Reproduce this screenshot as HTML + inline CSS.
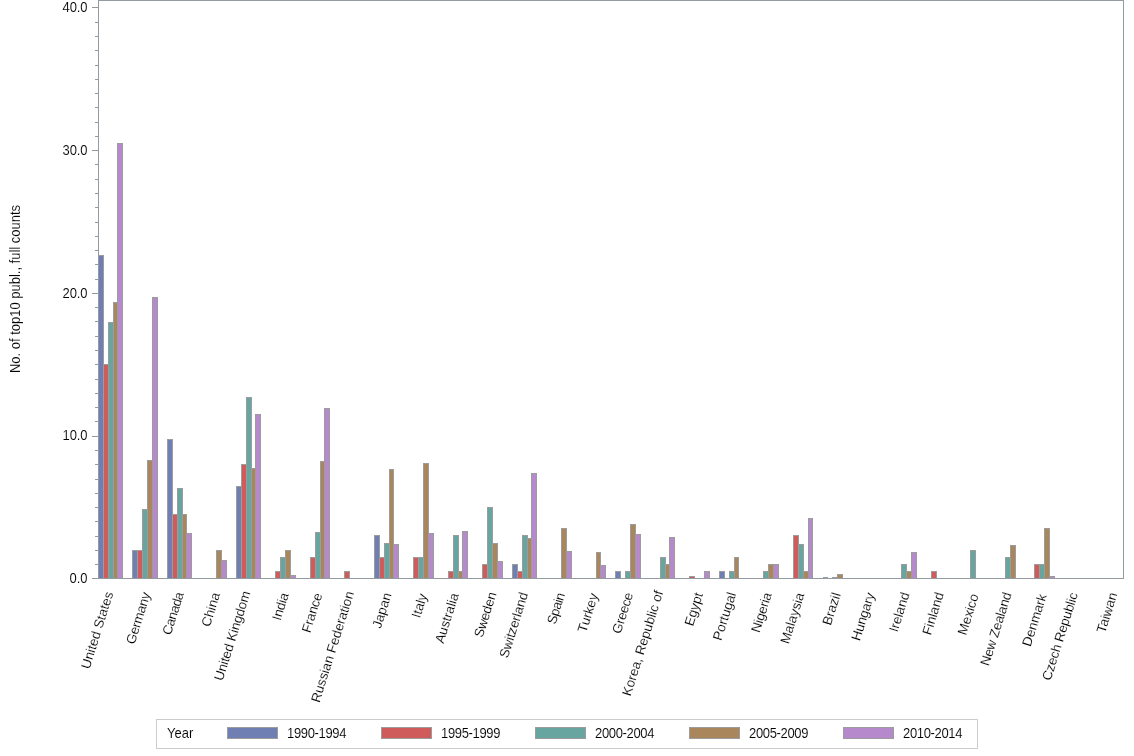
<!DOCTYPE html>
<html><head><meta charset="utf-8"><title>No. of top10 publ., full counts by country and period</title>
<style>html,body{margin:0;padding:0;background:#fff}body{width:1134px;height:756px;overflow:hidden}svg{display:block}text{stroke:#fff;stroke-width:0.1px;paint-order:fill stroke;font-family:"Liberation Sans",sans-serif;font-size:13px;fill:#000}.c rect,.c line{shape-rendering:crispEdges}text.xl{font-size:13.33px;stroke-width:0.15px}</style></head><body>
<svg width="1134" height="756" viewBox="0 0 1134 756">
<rect x="0" y="0" width="1134" height="756" fill="#fff"/>
<g class="c">
<rect x="98" y="255" width="6" height="324" fill="#9C9C9C"/>
<rect x="99" y="256" width="4" height="322" fill="#6F7EB3"/>
<rect x="103" y="364" width="6" height="215" fill="#9C9C9C"/>
<rect x="104" y="365" width="4" height="213" fill="#D05B5B"/>
<rect x="108" y="322" width="6" height="257" fill="#9C9C9C"/>
<rect x="109" y="323" width="4" height="255" fill="#66A5A0"/>
<rect x="113" y="302" width="5" height="277" fill="#9C9C9C"/>
<rect x="114" y="303" width="3" height="275" fill="#A9865B"/>
<rect x="117" y="143" width="6" height="436" fill="#9C9C9C"/>
<rect x="118" y="144" width="4" height="434" fill="#B689CD"/>
<rect x="132" y="550" width="6" height="29" fill="#9C9C9C"/>
<rect x="133" y="551" width="4" height="27" fill="#6F7EB3"/>
<rect x="137" y="550" width="6" height="29" fill="#9C9C9C"/>
<rect x="138" y="551" width="4" height="27" fill="#D05B5B"/>
<rect x="142" y="509" width="6" height="70" fill="#9C9C9C"/>
<rect x="143" y="510" width="4" height="68" fill="#66A5A0"/>
<rect x="147" y="460" width="6" height="119" fill="#9C9C9C"/>
<rect x="148" y="461" width="4" height="117" fill="#A9865B"/>
<rect x="152" y="297" width="6" height="282" fill="#9C9C9C"/>
<rect x="153" y="298" width="4" height="280" fill="#B689CD"/>
<rect x="167" y="439" width="6" height="140" fill="#9C9C9C"/>
<rect x="168" y="440" width="4" height="138" fill="#6F7EB3"/>
<rect x="172" y="514" width="6" height="65" fill="#9C9C9C"/>
<rect x="173" y="515" width="4" height="63" fill="#D05B5B"/>
<rect x="177" y="488" width="6" height="91" fill="#9C9C9C"/>
<rect x="178" y="489" width="4" height="89" fill="#66A5A0"/>
<rect x="182" y="514" width="5" height="65" fill="#9C9C9C"/>
<rect x="183" y="515" width="3" height="63" fill="#A9865B"/>
<rect x="186" y="533" width="6" height="46" fill="#9C9C9C"/>
<rect x="187" y="534" width="4" height="44" fill="#B689CD"/>
<rect x="216" y="550" width="6" height="29" fill="#9C9C9C"/>
<rect x="217" y="551" width="4" height="27" fill="#A9865B"/>
<rect x="221" y="560" width="6" height="19" fill="#9C9C9C"/>
<rect x="222" y="561" width="4" height="17" fill="#B689CD"/>
<rect x="236" y="486" width="6" height="93" fill="#9C9C9C"/>
<rect x="237" y="487" width="4" height="91" fill="#6F7EB3"/>
<rect x="241" y="464" width="6" height="115" fill="#9C9C9C"/>
<rect x="242" y="465" width="4" height="113" fill="#D05B5B"/>
<rect x="246" y="397" width="6" height="182" fill="#9C9C9C"/>
<rect x="247" y="398" width="4" height="180" fill="#66A5A0"/>
<rect x="251" y="468" width="5" height="111" fill="#9C9C9C"/>
<rect x="252" y="469" width="3" height="109" fill="#A9865B"/>
<rect x="255" y="414" width="6" height="165" fill="#9C9C9C"/>
<rect x="256" y="415" width="4" height="163" fill="#B689CD"/>
<rect x="275" y="571" width="6" height="8" fill="#9C9C9C"/>
<rect x="276" y="572" width="4" height="6" fill="#D05B5B"/>
<rect x="280" y="557" width="6" height="22" fill="#9C9C9C"/>
<rect x="281" y="558" width="4" height="20" fill="#66A5A0"/>
<rect x="285" y="550" width="6" height="29" fill="#9C9C9C"/>
<rect x="286" y="551" width="4" height="27" fill="#A9865B"/>
<rect x="290" y="575" width="6" height="4" fill="#9C9C9C"/>
<rect x="291" y="576" width="4" height="2" fill="#B689CD"/>
<rect x="310" y="557" width="6" height="22" fill="#9C9C9C"/>
<rect x="311" y="558" width="4" height="20" fill="#D05B5B"/>
<rect x="315" y="532" width="6" height="47" fill="#9C9C9C"/>
<rect x="316" y="533" width="4" height="45" fill="#66A5A0"/>
<rect x="320" y="461" width="5" height="118" fill="#9C9C9C"/>
<rect x="321" y="462" width="3" height="116" fill="#A9865B"/>
<rect x="324" y="408" width="6" height="171" fill="#9C9C9C"/>
<rect x="325" y="409" width="4" height="169" fill="#B689CD"/>
<rect x="344" y="571" width="6" height="8" fill="#9C9C9C"/>
<rect x="345" y="572" width="4" height="6" fill="#D05B5B"/>
<rect x="374" y="535" width="6" height="44" fill="#9C9C9C"/>
<rect x="375" y="536" width="4" height="42" fill="#6F7EB3"/>
<rect x="379" y="557" width="6" height="22" fill="#9C9C9C"/>
<rect x="380" y="558" width="4" height="20" fill="#D05B5B"/>
<rect x="384" y="543" width="6" height="36" fill="#9C9C9C"/>
<rect x="385" y="544" width="4" height="34" fill="#66A5A0"/>
<rect x="389" y="469" width="5" height="110" fill="#9C9C9C"/>
<rect x="390" y="470" width="3" height="108" fill="#A9865B"/>
<rect x="393" y="544" width="6" height="35" fill="#9C9C9C"/>
<rect x="394" y="545" width="4" height="33" fill="#B689CD"/>
<rect x="413" y="557" width="6" height="22" fill="#9C9C9C"/>
<rect x="414" y="558" width="4" height="20" fill="#D05B5B"/>
<rect x="418" y="557" width="6" height="22" fill="#9C9C9C"/>
<rect x="419" y="558" width="4" height="20" fill="#66A5A0"/>
<rect x="423" y="463" width="6" height="116" fill="#9C9C9C"/>
<rect x="424" y="464" width="4" height="114" fill="#A9865B"/>
<rect x="428" y="533" width="6" height="46" fill="#9C9C9C"/>
<rect x="429" y="534" width="4" height="44" fill="#B689CD"/>
<rect x="448" y="571" width="6" height="8" fill="#9C9C9C"/>
<rect x="449" y="572" width="4" height="6" fill="#D05B5B"/>
<rect x="453" y="535" width="6" height="44" fill="#9C9C9C"/>
<rect x="454" y="536" width="4" height="42" fill="#66A5A0"/>
<rect x="458" y="571" width="5" height="8" fill="#9C9C9C"/>
<rect x="459" y="572" width="3" height="6" fill="#A9865B"/>
<rect x="462" y="531" width="6" height="48" fill="#9C9C9C"/>
<rect x="463" y="532" width="4" height="46" fill="#B689CD"/>
<rect x="482" y="564" width="6" height="15" fill="#9C9C9C"/>
<rect x="483" y="565" width="4" height="13" fill="#D05B5B"/>
<rect x="487" y="507" width="6" height="72" fill="#9C9C9C"/>
<rect x="488" y="508" width="4" height="70" fill="#66A5A0"/>
<rect x="492" y="543" width="6" height="36" fill="#9C9C9C"/>
<rect x="493" y="544" width="4" height="34" fill="#A9865B"/>
<rect x="497" y="561" width="6" height="18" fill="#9C9C9C"/>
<rect x="498" y="562" width="4" height="16" fill="#B689CD"/>
<rect x="512" y="564" width="6" height="15" fill="#9C9C9C"/>
<rect x="513" y="565" width="4" height="13" fill="#6F7EB3"/>
<rect x="517" y="571" width="6" height="8" fill="#9C9C9C"/>
<rect x="518" y="572" width="4" height="6" fill="#D05B5B"/>
<rect x="522" y="535" width="6" height="44" fill="#9C9C9C"/>
<rect x="523" y="536" width="4" height="42" fill="#66A5A0"/>
<rect x="527" y="538" width="5" height="41" fill="#9C9C9C"/>
<rect x="528" y="539" width="3" height="39" fill="#A9865B"/>
<rect x="531" y="473" width="6" height="106" fill="#9C9C9C"/>
<rect x="532" y="474" width="4" height="104" fill="#B689CD"/>
<rect x="561" y="528" width="6" height="51" fill="#9C9C9C"/>
<rect x="562" y="529" width="4" height="49" fill="#A9865B"/>
<rect x="566" y="551" width="6" height="28" fill="#9C9C9C"/>
<rect x="567" y="552" width="4" height="26" fill="#B689CD"/>
<rect x="596" y="552" width="5" height="27" fill="#9C9C9C"/>
<rect x="597" y="553" width="3" height="25" fill="#A9865B"/>
<rect x="600" y="565" width="6" height="14" fill="#9C9C9C"/>
<rect x="601" y="566" width="4" height="12" fill="#B689CD"/>
<rect x="615" y="571" width="6" height="8" fill="#9C9C9C"/>
<rect x="616" y="572" width="4" height="6" fill="#6F7EB3"/>
<rect x="625" y="571" width="6" height="8" fill="#9C9C9C"/>
<rect x="626" y="572" width="4" height="6" fill="#66A5A0"/>
<rect x="630" y="524" width="6" height="55" fill="#9C9C9C"/>
<rect x="631" y="525" width="4" height="53" fill="#A9865B"/>
<rect x="635" y="534" width="6" height="45" fill="#9C9C9C"/>
<rect x="636" y="535" width="4" height="43" fill="#B689CD"/>
<rect x="660" y="557" width="6" height="22" fill="#9C9C9C"/>
<rect x="661" y="558" width="4" height="20" fill="#66A5A0"/>
<rect x="665" y="564" width="5" height="15" fill="#9C9C9C"/>
<rect x="666" y="565" width="3" height="13" fill="#A9865B"/>
<rect x="669" y="537" width="6" height="42" fill="#9C9C9C"/>
<rect x="670" y="538" width="4" height="40" fill="#B689CD"/>
<rect x="689" y="576" width="6" height="3" fill="#9C9C9C"/>
<rect x="690" y="577" width="4" height="1" fill="#D05B5B"/>
<rect x="704" y="571" width="6" height="8" fill="#9C9C9C"/>
<rect x="705" y="572" width="4" height="6" fill="#B689CD"/>
<rect x="719" y="571" width="6" height="8" fill="#9C9C9C"/>
<rect x="720" y="572" width="4" height="6" fill="#6F7EB3"/>
<rect x="729" y="571" width="6" height="8" fill="#9C9C9C"/>
<rect x="730" y="572" width="4" height="6" fill="#66A5A0"/>
<rect x="734" y="557" width="5" height="22" fill="#9C9C9C"/>
<rect x="735" y="558" width="3" height="20" fill="#A9865B"/>
<rect x="763" y="571" width="6" height="8" fill="#9C9C9C"/>
<rect x="764" y="572" width="4" height="6" fill="#66A5A0"/>
<rect x="768" y="564" width="6" height="15" fill="#9C9C9C"/>
<rect x="769" y="565" width="4" height="13" fill="#A9865B"/>
<rect x="773" y="564" width="6" height="15" fill="#9C9C9C"/>
<rect x="774" y="565" width="4" height="13" fill="#B689CD"/>
<rect x="793" y="535" width="6" height="44" fill="#9C9C9C"/>
<rect x="794" y="536" width="4" height="42" fill="#D05B5B"/>
<rect x="798" y="544" width="6" height="35" fill="#9C9C9C"/>
<rect x="799" y="545" width="4" height="33" fill="#66A5A0"/>
<rect x="803" y="571" width="6" height="8" fill="#9C9C9C"/>
<rect x="804" y="572" width="4" height="6" fill="#A9865B"/>
<rect x="808" y="518" width="5" height="61" fill="#9C9C9C"/>
<rect x="809" y="519" width="3" height="59" fill="#B689CD"/>
<rect x="823" y="577" width="5" height="2" fill="#9C9C9C"/>
<rect x="832" y="577" width="6" height="2" fill="#9C9C9C"/>
<rect x="837" y="574" width="6" height="5" fill="#9C9C9C"/>
<rect x="838" y="575" width="4" height="3" fill="#A9865B"/>
<rect x="901" y="564" width="6" height="15" fill="#9C9C9C"/>
<rect x="902" y="565" width="4" height="13" fill="#66A5A0"/>
<rect x="906" y="571" width="6" height="8" fill="#9C9C9C"/>
<rect x="907" y="572" width="4" height="6" fill="#A9865B"/>
<rect x="911" y="552" width="6" height="27" fill="#9C9C9C"/>
<rect x="912" y="553" width="4" height="25" fill="#B689CD"/>
<rect x="931" y="571" width="6" height="8" fill="#9C9C9C"/>
<rect x="932" y="572" width="4" height="6" fill="#D05B5B"/>
<rect x="970" y="550" width="6" height="29" fill="#9C9C9C"/>
<rect x="971" y="551" width="4" height="27" fill="#66A5A0"/>
<rect x="1005" y="557" width="6" height="22" fill="#9C9C9C"/>
<rect x="1006" y="558" width="4" height="20" fill="#66A5A0"/>
<rect x="1010" y="545" width="6" height="34" fill="#9C9C9C"/>
<rect x="1011" y="546" width="4" height="32" fill="#A9865B"/>
<rect x="1034" y="564" width="6" height="15" fill="#9C9C9C"/>
<rect x="1035" y="565" width="4" height="13" fill="#D05B5B"/>
<rect x="1039" y="564" width="6" height="15" fill="#9C9C9C"/>
<rect x="1040" y="565" width="4" height="13" fill="#66A5A0"/>
<rect x="1044" y="528" width="6" height="51" fill="#9C9C9C"/>
<rect x="1045" y="529" width="4" height="49" fill="#A9865B"/>
<rect x="1049" y="576" width="6" height="3" fill="#9C9C9C"/>
<rect x="1050" y="577" width="4" height="1" fill="#B689CD"/>
<rect x="98" y="0" width="1026" height="1" fill="#949BA0"/>
<rect x="98" y="0" width="1" height="579" fill="#949BA0"/>
<rect x="1123" y="0" width="1" height="579" fill="#949BA0"/>
<rect x="98" y="578" width="1026" height="1" fill="#949BA0"/>
<rect x="92" y="7" width="6" height="1" fill="#949BA0"/>
<rect x="95" y="22" width="3" height="1" fill="#949BA0"/>
<rect x="95" y="36" width="3" height="1" fill="#949BA0"/>
<rect x="95" y="50" width="3" height="1" fill="#949BA0"/>
<rect x="95" y="65" width="3" height="1" fill="#949BA0"/>
<rect x="95" y="79" width="3" height="1" fill="#949BA0"/>
<rect x="95" y="93" width="3" height="1" fill="#949BA0"/>
<rect x="95" y="107" width="3" height="1" fill="#949BA0"/>
<rect x="95" y="122" width="3" height="1" fill="#949BA0"/>
<rect x="95" y="136" width="3" height="1" fill="#949BA0"/>
<rect x="92" y="150" width="6" height="1" fill="#949BA0"/>
<rect x="95" y="164" width="3" height="1" fill="#949BA0"/>
<rect x="95" y="179" width="3" height="1" fill="#949BA0"/>
<rect x="95" y="193" width="3" height="1" fill="#949BA0"/>
<rect x="95" y="207" width="3" height="1" fill="#949BA0"/>
<rect x="95" y="222" width="3" height="1" fill="#949BA0"/>
<rect x="95" y="236" width="3" height="1" fill="#949BA0"/>
<rect x="95" y="250" width="3" height="1" fill="#949BA0"/>
<rect x="95" y="264" width="3" height="1" fill="#949BA0"/>
<rect x="95" y="279" width="3" height="1" fill="#949BA0"/>
<rect x="92" y="293" width="6" height="1" fill="#949BA0"/>
<rect x="95" y="307" width="3" height="1" fill="#949BA0"/>
<rect x="95" y="321" width="3" height="1" fill="#949BA0"/>
<rect x="95" y="336" width="3" height="1" fill="#949BA0"/>
<rect x="95" y="350" width="3" height="1" fill="#949BA0"/>
<rect x="95" y="364" width="3" height="1" fill="#949BA0"/>
<rect x="95" y="379" width="3" height="1" fill="#949BA0"/>
<rect x="95" y="393" width="3" height="1" fill="#949BA0"/>
<rect x="95" y="407" width="3" height="1" fill="#949BA0"/>
<rect x="95" y="421" width="3" height="1" fill="#949BA0"/>
<rect x="92" y="436" width="6" height="1" fill="#949BA0"/>
<rect x="95" y="450" width="3" height="1" fill="#949BA0"/>
<rect x="95" y="464" width="3" height="1" fill="#949BA0"/>
<rect x="95" y="479" width="3" height="1" fill="#949BA0"/>
<rect x="95" y="493" width="3" height="1" fill="#949BA0"/>
<rect x="95" y="507" width="3" height="1" fill="#949BA0"/>
<rect x="95" y="521" width="3" height="1" fill="#949BA0"/>
<rect x="95" y="536" width="3" height="1" fill="#949BA0"/>
<rect x="95" y="550" width="3" height="1" fill="#949BA0"/>
<rect x="95" y="564" width="3" height="1" fill="#949BA0"/>
<rect x="92" y="578" width="6" height="1" fill="#949BA0"/>
</g>
<text transform="translate(87.5,12.2) scale(1,1.06)" text-anchor="end" textLength="25">40.0</text>
<text transform="translate(87.5,154.9) scale(1,1.06)" text-anchor="end" textLength="25">30.0</text>
<text transform="translate(87.5,297.7) scale(1,1.06)" text-anchor="end" textLength="25">20.0</text>
<text transform="translate(87.5,440.4) scale(1,1.06)" text-anchor="end" textLength="25">10.0</text>
<text transform="translate(87.5,583.2) scale(1,1.06)" text-anchor="end" textLength="18">0.0</text>
<text transform="translate(20,289) rotate(-90) scale(1,1.06)" text-anchor="middle">No. of top10 publ., full counts</text>
<text transform="translate(113.44,593.32) rotate(-72.5)" text-anchor="end" class="xl">United States</text>
<text transform="translate(150.58,593.97) rotate(-72.5)" text-anchor="end" textLength="53.5" class="xl">Germany</text>
<text transform="translate(184.06,593.59) rotate(-72.5)" text-anchor="end" textLength="44.2" class="xl">Canada</text>
<text transform="translate(220.27,594.19) rotate(-72.5)" text-anchor="end" class="xl">China</text>
<text transform="translate(250.60,592.63) rotate(-72.5)" text-anchor="end" textLength="93.3" class="xl">United Kingdom</text>
<text transform="translate(288.88,594.35) rotate(-72.5)" text-anchor="end" textLength="28.1" class="xl">India</text>
<text transform="translate(322.38,594.62) rotate(-72.5)" text-anchor="end" textLength="40.7" class="xl">France</text>
<text transform="translate(354.15,592.99) rotate(-72.5)" text-anchor="end" class="xl">Russian Federation</text>
<text transform="translate(391.67,594.46) rotate(-72.5)" text-anchor="end" class="xl">Japan</text>
<text transform="translate(427.38,595.36) rotate(-72.5)" text-anchor="end" class="xl">Italy</text>
<text transform="translate(458.99,594.65) rotate(-72.5)" text-anchor="end" class="xl">Australia</text>
<text transform="translate(496.62,593.75) rotate(-72.5)" text-anchor="end" textLength="46.7" class="xl">Sweden</text>
<text transform="translate(528.25,593.91) rotate(-72.5)" text-anchor="end" textLength="68.1" class="xl">Switzerland</text>
<text transform="translate(565.11,594.31) rotate(-72.5)" text-anchor="end" textLength="32.1" class="xl">Spain</text>
<text transform="translate(598.22,594.95) rotate(-72.5)" text-anchor="end" class="xl">Turkey</text>
<text transform="translate(633.31,594.16) rotate(-72.5)" text-anchor="end" textLength="42.2" class="xl">Greece</text>
<text transform="translate(663.45,592.15) rotate(-72.5)" text-anchor="end" class="xl">Korea, Republic of</text>
<text transform="translate(703.15,594.21) rotate(-72.5)" text-anchor="end" class="xl">Egypt</text>
<text transform="translate(736.25,593.81) rotate(-72.5)" text-anchor="end" class="xl">Portugal</text>
<text transform="translate(771.91,594.10) rotate(-72.5)" text-anchor="end" textLength="41.0" class="xl">Nigeria</text>
<text transform="translate(804.58,594.33) rotate(-72.5)" text-anchor="end" class="xl">Malaysia</text>
<text transform="translate(840.83,594.23) rotate(-72.5)" text-anchor="end" class="xl">Brazil</text>
<text transform="translate(874.68,594.39) rotate(-72.5)" text-anchor="end" textLength="49.4" class="xl">Hungary</text>
<text transform="translate(909.71,593.94) rotate(-72.5)" text-anchor="end" class="xl">Ireland</text>
<text transform="translate(944.02,593.96) rotate(-72.5)" text-anchor="end" class="xl">Finland</text>
<text transform="translate(978.78,595.50) rotate(-72.5)" text-anchor="end" class="xl">Mexico</text>
<text transform="translate(1011.69,593.96) rotate(-72.5)" text-anchor="end" textLength="76.0" class="xl">New Zealand</text>
<text transform="translate(1046.81,595.59) rotate(-72.5)" text-anchor="end" class="xl">Denmark</text>
<text transform="translate(1078.03,594.17) rotate(-72.5)" text-anchor="end" textLength="91.4" class="xl">Czech Republic</text>
<text transform="translate(1117.55,594.12) rotate(-72.5)" text-anchor="end" class="xl">Taiwan</text>
<g class="c">
<rect x="156.5" y="719.5" width="821" height="29" fill="#fff" stroke="#CCCCCC" stroke-width="1"/>
<rect x="227" y="727" width="51" height="12" fill="#9C9C9C"/>
<rect x="228" y="728" width="49" height="10" fill="#6F7EB3"/>
<rect x="381" y="727" width="51" height="12" fill="#9C9C9C"/>
<rect x="382" y="728" width="49" height="10" fill="#D05B5B"/>
<rect x="535" y="727" width="51" height="12" fill="#9C9C9C"/>
<rect x="536" y="728" width="49" height="10" fill="#66A5A0"/>
<rect x="689" y="727" width="51" height="12" fill="#9C9C9C"/>
<rect x="690" y="728" width="49" height="10" fill="#A9865B"/>
<rect x="843" y="727" width="51" height="12" fill="#9C9C9C"/>
<rect x="844" y="728" width="49" height="10" fill="#B689CD"/>
</g>
<text transform="translate(167,738) scale(1,1.06)">Year</text>
<text transform="translate(287,738) scale(1,1.06)" textLength="59.5">1990-1994</text>
<text transform="translate(441,738) scale(1,1.06)" textLength="59.5">1995-1999</text>
<text transform="translate(595,738) scale(1,1.06)" textLength="59.5">2000-2004</text>
<text transform="translate(749,738) scale(1,1.06)" textLength="59.5">2005-2009</text>
<text transform="translate(903,738) scale(1,1.06)" textLength="59.5">2010-2014</text>
</svg></body></html>
